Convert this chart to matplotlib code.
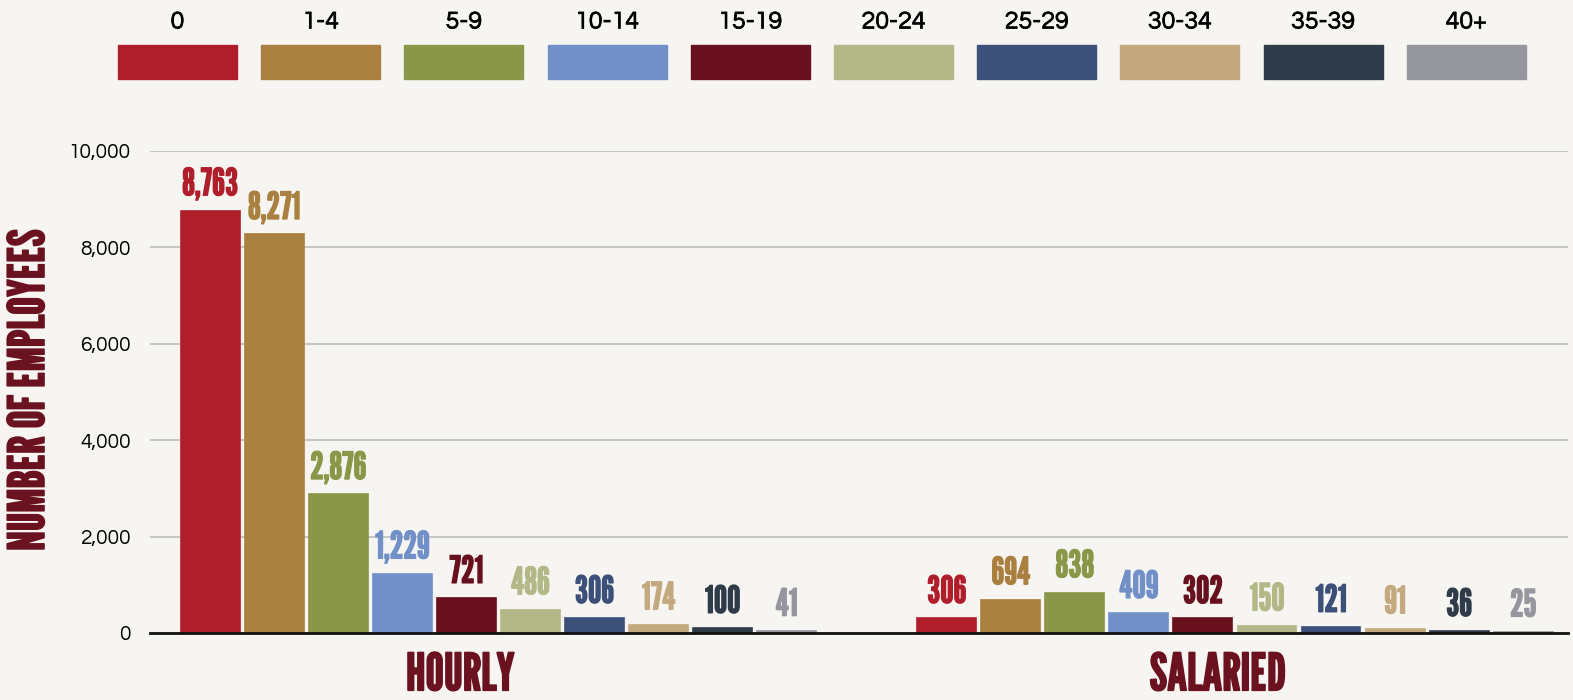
import numpy as np
import matplotlib
matplotlib.use("Agg")
import matplotlib.pyplot as plt
import matplotlib.patheffects as pe
from matplotlib.patches import Rectangle

# --------------------
# Data
# --------------------
age_bins = ["0", "1-4", "5-9", "10-14", "15-19", "20-24",
            "25-29", "30-34", "35-39", "40+"]
groups = ["HOURLY", "SALARIED"]
hourly = [8763, 8271, 2876, 1229, 721, 486, 306, 174, 100, 41]
salaried = [306, 694, 838, 409, 302, 150, 121, 91, 36, 25]

colors = ["#B11E2B", "#AA8040", "#8A9748", "#7290C8", "#68101E",
          "#B2B886", "#3C5079", "#C4A87E", "#2F3B49", "#96969F"]

BG = "#F6F5F2"
MAROON = "#6A1220"
TICK_FONT = ["Questrial", "DejaVu Sans"]
COND_FONT = ["League Gothic", "DejaVu Sans"]

# --------------------
# Figure
# --------------------
fig = plt.figure(figsize=(15.73, 7.0), dpi=100, facecolor=BG)
ax = fig.add_axes([150 / 1573, 67 / 700, 1418 / 1573, 482 / 700])
ax.set_facecolor(BG)

n = len(age_bins)
group_offset = 11.5
bar_w = 0.92
label_shift = [-0.6, -0.27]   # group titles sit a bit left of the bar centre

for g, vals in enumerate([hourly, salaried]):
    xs = np.arange(n) + g * group_offset
    ax.bar(xs, vals, width=bar_w, color=colors, edgecolor=colors,
           linewidth=1.2, zorder=3)
    for x, v, c in zip(xs, vals, colors):
        ax.annotate(f"{v:,}", (x, v), xytext=(0, 6), textcoords="offset points",
                    ha="center", va="bottom", color=c, fontsize=27,
                    family=COND_FONT,
                    path_effects=[pe.withStroke(linewidth=0.9, foreground=c)])
    ax.text(xs.mean() + label_shift[g], -0.04, groups[g],
            transform=ax.get_xaxis_transform(),
            ha="center", va="top", color=MAROON, fontsize=37,
            family=COND_FONT,
            path_effects=[pe.withStroke(linewidth=1.2, foreground=MAROON)])

ax.set_xlim(-0.94, 21.2)
ax.set_ylim(0, 10000)
ax.set_yticks(np.arange(0, 10001, 2000))
ax.set_yticklabels([f"{t:,}" for t in range(0, 10001, 2000)],
                   family=TICK_FONT, fontsize=15)
ax.set_xticks([])
ax.tick_params(axis="y", length=0, pad=14)
ax.grid(axis="y", color="#BDBDBA", linewidth=1.2, zorder=0)
for s in ["top", "right", "left"]:
    ax.spines[s].set_visible(False)
ax.spines["bottom"].set_color("#111111")
ax.spines["bottom"].set_linewidth(2)
ax.spines["bottom"].set_zorder(4)

fig.text(30 / 1573, 1 - 390 / 700, "NUMBER OF EMPLOYEES", rotation=90,
         ha="center", va="center", color=MAROON, fontsize=36,
         family=COND_FONT,
         path_effects=[pe.withStroke(linewidth=1.2, foreground=MAROON)])

# --------------------
# Legend row
# --------------------
leg_x0 = 118
leg_step = 143.2
leg_w = 119
for i, (lab, c) in enumerate(zip(age_bins, colors)):
    x0 = leg_x0 + i * leg_step
    fig.patches.append(Rectangle((x0 / 1573, 1 - 79 / 700), leg_w / 1573, 34 / 700,
                                 transform=fig.transFigure, color=c))
    fig.text((x0 + leg_w / 2) / 1573, 1 - 22 / 700, lab, ha="center",
             va="center", fontsize=18, family=TICK_FONT, color="black",
             path_effects=[pe.withStroke(linewidth=0.5, foreground="black")])

fig.savefig("out.png", dpi=100, facecolor=BG)
